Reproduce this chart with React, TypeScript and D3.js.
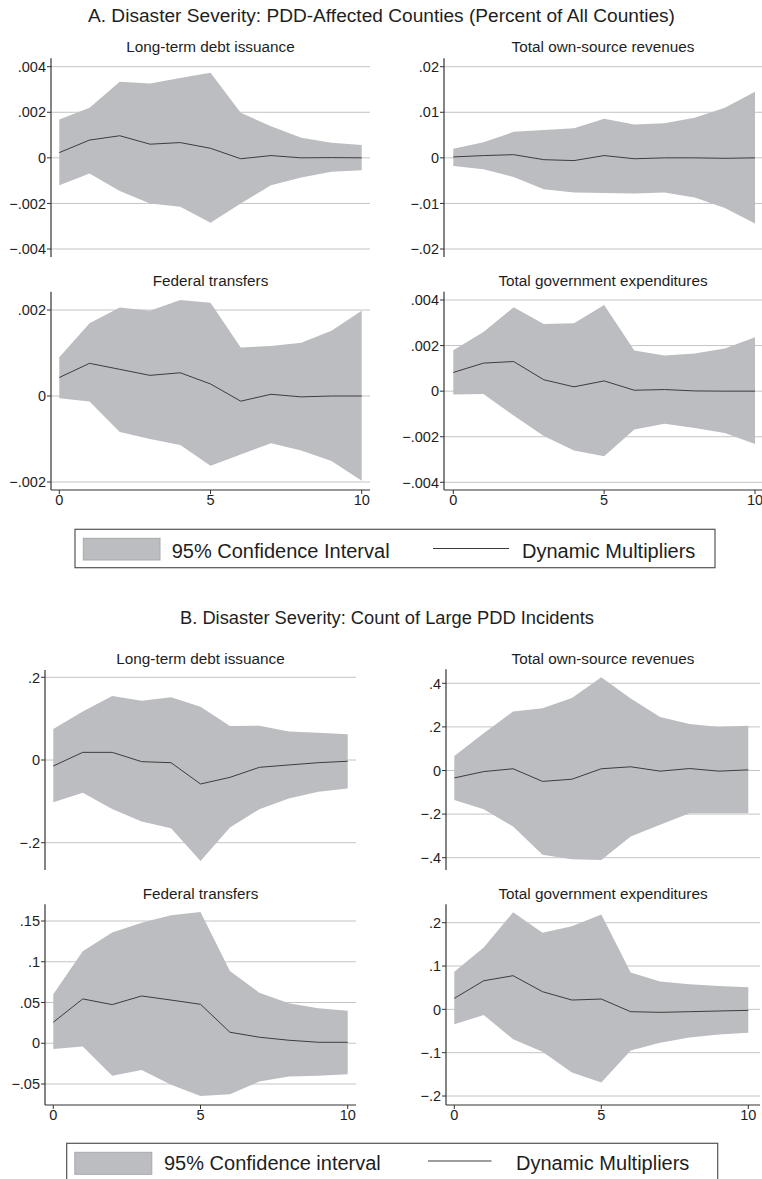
import React from "react";
import * as d3 from "d3";

// ---------- DATA ----------
const horizons = [0, 1, 2, 3, 4, 5, 6, 7, 8, 9, 10];
const xTicks = [0, 5, 10];

// Panel A: PDD-Affected Counties
const aDebtEst = [0.00023, 0.00078, 0.00097, 0.0006, 0.00067, 0.00042, -0.00004, 0.0001, 0.0, 0.00001, 0.0];
const aDebtHi = [0.00168, 0.0022, 0.00334, 0.00326, 0.0035, 0.00373, 0.00198, 0.00139, 0.00088, 0.00066, 0.00056];
const aDebtLo = [-0.0012, -0.00069, -0.00146, -0.002, -0.00215, -0.00285, -0.002, -0.0012, -0.00086, -0.00061, -0.00054];

const aRevEst = [0.0002, 0.0005, 0.0007, -0.0004, -0.0006, 0.0005, -0.0002, 0.0, 0.0, -0.0001, 0.0];
const aRevHi = [0.002, 0.0034, 0.0057, 0.0061, 0.0065, 0.0086, 0.0073, 0.0076, 0.0088, 0.011, 0.0145];
const aRevLo = [-0.0018, -0.0025, -0.0042, -0.0069, -0.0076, -0.0077, -0.0078, -0.0076, -0.0087, -0.011, -0.0144];

const aFedEst = [0.00043, 0.00076, 0.00062, 0.00048, 0.00054, 0.00028, -0.00012, 0.00004, -0.00002, 0.0, 0.0];
const aFedHi = [0.0009, 0.00169, 0.00206, 0.00198, 0.00223, 0.00217, 0.00113, 0.00116, 0.00124, 0.00152, 0.00198];
const aFedLo = [-0.00005, -0.00013, -0.00084, -0.001, -0.00114, -0.00162, -0.00136, -0.0011, -0.00127, -0.00151, -0.00197];

const aExpEst = [0.00082, 0.00123, 0.0013, 0.0005, 0.00019, 0.00045, 0.00004, 0.00007, 0.00001, 0.0, 0.0];
const aExpHi = [0.0018, 0.0026, 0.00368, 0.00295, 0.00298, 0.00378, 0.00178, 0.00156, 0.00165, 0.00187, 0.00236];
const aExpLo = [-0.00015, -0.00013, -0.00107, -0.00197, -0.0026, -0.00286, -0.00168, -0.00143, -0.00162, -0.00184, -0.00232];

// Panel B: Count of Large PDD Incidents
const bDebtEst = [-0.0145, 0.0185, 0.0185, -0.004, -0.0065, -0.058, -0.042, -0.0177, -0.012, -0.0065, -0.003];
const bDebtHi = [0.075, 0.117, 0.155, 0.143, 0.152, 0.129, 0.082, 0.083, 0.069, 0.066, 0.062];
const bDebtLo = [-0.102, -0.079, -0.1185, -0.149, -0.165, -0.244, -0.163, -0.119, -0.093, -0.077, -0.069];

const bRevEst = [-0.034, -0.005, 0.008, -0.05, -0.04, 0.008, 0.017, -0.003, 0.009, -0.003, 0.003];
const bRevHi = [0.067, 0.171, 0.271, 0.286, 0.332, 0.428, 0.33, 0.245, 0.213, 0.199, 0.205];
const bRevLo = [-0.135, -0.178, -0.257, -0.387, -0.407, -0.41, -0.303, -0.249, -0.196, -0.196, -0.196];

const bFedEst = [0.0258, 0.0544, 0.0474, 0.058, 0.053, 0.0478, 0.0135, 0.0074, 0.0037, 0.0012, 0.0012];
const bFedHi = [0.06, 0.113, 0.136, 0.148, 0.157, 0.161, 0.0887, 0.062, 0.049, 0.043, 0.04];
const bFedLo = [-0.007, -0.004, -0.04, -0.0327, -0.051, -0.0646, -0.0625, -0.047, -0.0409, -0.04, -0.038];

const bExpEst = [0.0254, 0.066, 0.0777, 0.0408, 0.0215, 0.0238, -0.0054, -0.0069, -0.0054, -0.0038, -0.0023];
const bExpHi = [0.087, 0.143, 0.224, 0.177, 0.192, 0.219, 0.085, 0.064, 0.058, 0.054, 0.051];
const bExpLo = [-0.0346, -0.013, -0.069, -0.098, -0.146, -0.169, -0.095, -0.077, -0.065, -0.058, -0.054];

// Tick values and labels
const ticksA1 = [-0.004, -0.002, 0, 0.002, 0.004];
const labelsA1 = ["\u2212.004", "\u2212.002", "0", ".002", ".004"];
const ticksA2 = [-0.02, -0.01, 0, 0.01, 0.02];
const labelsA2 = ["\u2212.02", "\u2212.01", "0", ".01", ".02"];
const ticksA3 = [-0.002, 0, 0.002];
const labelsA3 = ["\u2212.002", "0", ".002"];
const ticksA4 = [-0.004, -0.002, 0, 0.002, 0.004];
const labelsA4 = ["\u2212.004", "\u2212.002", "0", ".002", ".004"];
const ticksB1 = [-0.2, 0, 0.2];
const labelsB1 = ["\u2212.2", "0", ".2"];
const ticksB2 = [-0.4, -0.2, 0, 0.2, 0.4];
const labelsB2 = ["\u2212.4", "\u2212.2", "0", ".2", ".4"];
const ticksB3 = [-0.05, 0, 0.05, 0.1, 0.15];
const labelsB3 = ["\u2212.05", "0", ".05", ".1", ".15"];
const ticksB4 = [-0.2, -0.1, 0, 0.1, 0.2];
const labelsB4 = ["\u2212.2", "\u2212.1", "0", ".1", ".2"];

const titleA = "A. Disaster Severity: PDD-Affected Counties (Percent of All Counties)";
const titleB = "B. Disaster Severity: Count of Large PDD Incidents";
const subTitles = ["Long-term debt issuance", "Total own-source revenues", "Federal transfers", "Total government expenditures"];
const legendCIa = "95% Confidence Interval";
const legendCIb = "95% Confidence interval";
const legendLine = "Dynamic Multipliers";

// ---------- STYLE ----------
const FONT = "'Liberation Sans', Arial, Helvetica, sans-serif";
const BAND = "#bcbdc1";
const LINE = "#3c3c3c";
const GRID = "#c4c4c4";
const AXIS = "#333333";
const TEXT = "#1e1e1e";

type PanelProps = {
  title: string;
  est: number[];
  lo: number[];
  hi: number[];
  ticks: number[];
  labels: string[];
  axisX: number;
  gridEnd: number;
  xRange: [number, number];
  yRange: [number, number];
  axisTop: number;
  axisBottom: number;
  showX: boolean;
  titleY: number;
};

function Panel(p: PanelProps) {
  const x = d3.scaleLinear().domain([0, 10]).range(p.xRange);
  const y = d3
    .scaleLinear()
    .domain([p.ticks[0], p.ticks[p.ticks.length - 1]])
    .range(p.yRange);
  const area = d3
    .area<number>()
    .x((_, i) => x(horizons[i]))
    .y0((_, i) => y(p.lo[i]))
    .y1((_, i) => y(p.hi[i]));
  const line = d3
    .line<number>()
    .x((_, i) => x(horizons[i]))
    .y((d) => y(d));
  const cx = (p.axisX + p.gridEnd) / 2;
  return (
    <g>
      <text x={cx} y={p.titleY} textAnchor="middle" fontSize={15.3} fill={TEXT} fontFamily={FONT}>
        {p.title}
      </text>
      {p.ticks.map((t, i) => (
        <g key={i}>
          <line x1={p.axisX} x2={p.gridEnd} y1={y(t)} y2={y(t)} stroke={GRID} strokeWidth={1} />
          <line x1={p.axisX - 4} x2={p.axisX} y1={y(t)} y2={y(t)} stroke={AXIS} strokeWidth={1} />
          <text x={p.axisX - 5} y={y(t)} dy="0.36em" textAnchor="end" fontSize={14.5} fill={TEXT} fontFamily={FONT}>
            {p.labels[i]}
          </text>
        </g>
      ))}
      <path d={area(p.est) || ""} fill={BAND} stroke="none" />
      <path d={line(p.est) || ""} fill="none" stroke={LINE} strokeWidth={1} />
      <line x1={p.axisX} x2={p.axisX} y1={p.axisTop} y2={p.axisBottom} stroke={AXIS} strokeWidth={1.2} />
      {p.showX && (
        <g>
          <line x1={p.axisX} x2={p.gridEnd} y1={p.axisBottom} y2={p.axisBottom} stroke={AXIS} strokeWidth={1.2} />
          {xTicks.map((t) => (
            <g key={t}>
              <line x1={x(t)} x2={x(t)} y1={p.axisBottom} y2={p.axisBottom + 4} stroke={AXIS} strokeWidth={1} />
              <text x={x(t)} y={p.axisBottom + 15} textAnchor="middle" fontSize={14.5} fill={TEXT} fontFamily={FONT}>
                {t}
              </text>
            </g>
          ))}
        </g>
      )}
    </g>
  );
}

function Legend({ x, y, w, h, ci, swX, swY, swW, swH, textX, baseY, lineX1, lineX2, lineY, dmX }: any) {
  return (
    <g>
      <rect x={x} y={y} width={w} height={h} fill="#fff" stroke="#555" strokeWidth={1.2} />
      <rect x={swX} y={swY} width={swW} height={swH} fill={BAND} stroke="#a8a9ad" strokeWidth={1} />
      <text x={textX} y={baseY} fontSize={20} fill={TEXT} fontFamily={FONT}>
        {ci}
      </text>
      <line x1={lineX1} x2={lineX2} y1={lineY} y2={lineY} stroke={LINE} strokeWidth={1.2} />
      <text x={dmX} y={baseY} fontSize={20} fill={TEXT} fontFamily={FONT}>
        {legendLine}
      </text>
    </g>
  );
}

export default function App() {
  const panels: PanelProps[] = [
    { title: subTitles[0], est: aDebtEst, lo: aDebtLo, hi: aDebtHi, ticks: ticksA1, labels: labelsA1, axisX: 51, gridEnd: 370, xRange: [59.3, 361.7], yRange: [249, 66.7], axisTop: 58.3, axisBottom: 257, showX: false, titleY: 52 },
    { title: subTitles[1], est: aRevEst, lo: aRevLo, hi: aRevHi, ticks: ticksA2, labels: labelsA2, axisX: 444, gridEnd: 762, xRange: [453.3, 755], yRange: [249, 66.7], axisTop: 58.3, axisBottom: 257, showX: false, titleY: 52 },
    { title: subTitles[2], est: aFedEst, lo: aFedLo, hi: aFedHi, ticks: ticksA3, labels: labelsA3, axisX: 51, gridEnd: 370, xRange: [59.3, 361.7], yRange: [482, 310], axisTop: 291.7, axisBottom: 490, showX: true, titleY: 286 },
    { title: subTitles[3], est: aExpEst, lo: aExpLo, hi: aExpHi, ticks: ticksA4, labels: labelsA4, axisX: 444, gridEnd: 762, xRange: [453.3, 755], yRange: [482.3, 300], axisTop: 291.7, axisBottom: 490, showX: true, titleY: 286 },
    { title: subTitles[0], est: bDebtEst, lo: bDebtLo, hi: bDebtHi, ticks: ticksB1, labels: labelsB1, axisX: 45, gridEnd: 356, xRange: [53.3, 347.7], yRange: [842.7, 677.3], axisTop: 670, axisBottom: 870, showX: false, titleY: 664 },
    { title: subTitles[1], est: bRevEst, lo: bRevLo, hi: bRevHi, ticks: ticksB2, labels: labelsB2, axisX: 446, gridEnd: 760, xRange: [454.3, 748.3], yRange: [857.7, 683.3], axisTop: 669.3, axisBottom: 870, showX: false, titleY: 664 },
    { title: subTitles[2], est: bFedEst, lo: bFedLo, hi: bFedHi, ticks: ticksB3, labels: labelsB3, axisX: 45, gridEnd: 356, xRange: [53.3, 347.7], yRange: [1084, 921], axisTop: 904.3, axisBottom: 1105, showX: true, titleY: 899 },
    { title: subTitles[3], est: bExpEst, lo: bExpLo, hi: bExpHi, ticks: ticksB4, labels: labelsB4, axisX: 446, gridEnd: 760, xRange: [454.3, 748.3], yRange: [1096, 922.7], axisTop: 904.3, axisBottom: 1105, showX: true, titleY: 899 },
  ];
  return (
    <div style={{ position: "absolute", left: 0, top: 0 }}>
      <svg width={762} height={1179} style={{ display: "block", background: "#fff" }}>
        <rect x={0} y={0} width={762} height={1179} fill="#fff" />
        <text x={381.5} y={22} textAnchor="middle" fontSize={17.5} textLength={587} lengthAdjust="spacingAndGlyphs" fill={TEXT} fontFamily={FONT}>
          {titleA}
        </text>
        <text x={387} y={624} textAnchor="middle" fontSize={17.5} textLength={414} lengthAdjust="spacingAndGlyphs" fill={TEXT} fontFamily={FONT}>
          {titleB}
        </text>
        {panels.map((p, i) => (
          <Panel key={i} {...p} />
        ))}
        <Legend x={75} y={529.3} w={640} h={38.4} ci={legendCIa} swX={83.3} swY={538.3} swW={76.7} swH={21.7} textX={171.7} baseY={557.5} lineX1={433} lineX2={509} lineY={548.5} dmX={522} />
        <Legend x={66.7} y={1143.3} w={651} h={50} ci={legendCIb} swX={74.8} swY={1152.3} swW={77} swH={22} textX={164} baseY={1170} lineX1={428} lineX2={491.5} lineY={1161} dmX={516} />
      </svg>
    </div>
  );
}
